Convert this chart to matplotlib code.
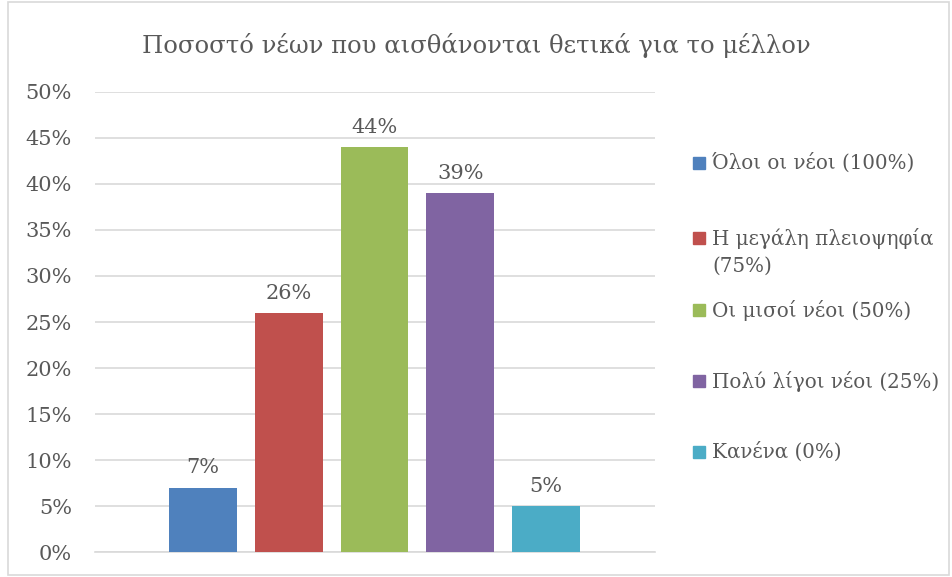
import matplotlib.pyplot as plt
from matplotlib.patches import Rectangle

plt.rcParams['font.family'] = ['DejaVu Serif']

title = 'Ποσοστό νέων που αισθάνονται θετικά για το μέλλον'
series = ['Όλοι οι νέοι (100%)', 'Η μεγάλη πλειοψηφία\n(75%)', 'Οι μισοί νέοι (50%)',
          'Πολύ λίγοι νέοι (25%)', 'Κανένα (0%)']
values = [7, 26, 44, 39, 5]
colors = ['#4F81BD', '#C0504D', '#9BBB59', '#8064A2', '#4BACC6']
yticks = [0, 5, 10, 15, 20, 25, 30, 35, 40, 45, 50]

text_col = '#595959'

fig = plt.figure(figsize=(9.53, 5.77), dpi=100)
fig.patches.append(Rectangle((0.008, 0.003), 0.988, 0.994, transform=fig.transFigure,
                             fill=False, edgecolor='#D9D9D9', linewidth=1.2))

ax = fig.add_axes([95 / 953, 1 - 552 / 577, 560 / 953, 460 / 577])

for i, (v, c) in enumerate(zip(values, colors)):
    ax.bar(i, v, width=0.79, color=c, zorder=3)
    ax.text(i, v + 1.1, f'{v}%', ha='center', va='bottom', fontsize=15, color=text_col)

ax.set_xlim(-1.26, 5.27)
ax.set_ylim(0, 50)
ax.set_yticks(yticks)
ax.set_yticklabels([f'{t}%' for t in yticks], fontsize=15, color=text_col)
ax.set_xticks([])
ax.tick_params(axis='y', length=0, pad=16.5)
ax.grid(axis='y', color='#D9D9D9', linewidth=1.2, zorder=0)
for s in ['top', 'right', 'left']:
    ax.spines[s].set_visible(False)
ax.spines['bottom'].set_color('#D9D9D9')
ax.spines['bottom'].set_linewidth(1.2)

fig.text(0.5, 1 - 45 / 577, title, ha='center', va='center', fontsize=17.5, color=text_col)

# legend drawn by hand, Excel-like spacing
leg_y = [163, 238, 310, 381, 452]
for lab, c, y in zip(series, colors, leg_y):
    fig.patches.append(Rectangle((693 / 953, 1 - (y + 6) / 577), 12 / 953, 12 / 577,
                                 transform=fig.transFigure, color=c))
    fig.text(712 / 953, 1 - (y - 10) / 577, lab, ha='left', va='top', fontsize=14.3,
             color=text_col, linespacing=1.5)

fig.savefig('out.png', dpi=100)
